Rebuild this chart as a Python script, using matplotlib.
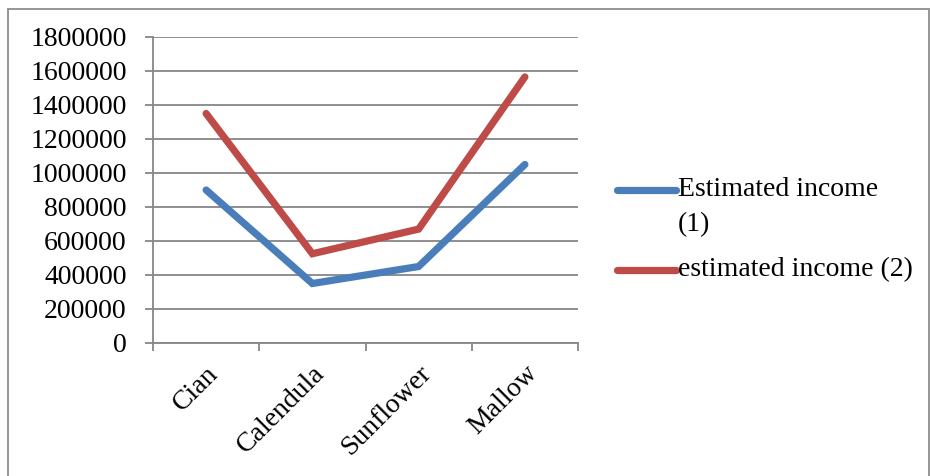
import matplotlib.pyplot as plt
from matplotlib.lines import Line2D
from matplotlib.patches import Rectangle
from matplotlib.ticker import StrMethodFormatter

crops = ["Cian", "Calendula", "Sunflower", "Mallow"]
income_1 = [900000, 350000, 450000, 1050000]
income_2 = [1350000, 525000, 670000, 1565000]
series_names = ["Estimated income\n(1)", "estimated income (2)"]
colors = ["#4A7EBB", "#BE4B48"]
grid_gray = "#868686"

plt.rcParams["font.family"] = ["Liberation Serif", "DejaVu Serif"]
fs = 20

fig = plt.figure(figsize=(9.31, 4.76), dpi=100)
ax = fig.add_axes([153 / 931, 1 - 343 / 476, 425 / 931, 306 / 476])

x = list(range(len(crops)))
ax.plot(x, income_1, color=colors[0], lw=5.2, solid_capstyle="round",
        solid_joinstyle="miter", zorder=3)
ax.plot(x, income_2, color=colors[1], lw=5.2, solid_capstyle="round",
        solid_joinstyle="miter", zorder=3)

ax.set_xlim(-0.5, len(crops) - 0.5)
ax.set_ylim(0, 1800000)
ax.set_yticks(range(0, 1800001, 200000))
ax.yaxis.set_major_formatter(StrMethodFormatter("{x:.0f}"))
ax.yaxis.grid(True, color=grid_gray, lw=1.3)
ax.set_axisbelow(True)

# category ticks sit on the boundaries, labels in between
ax.set_xticks([i - 0.5 for i in range(len(crops) + 1)])
ax.set_xticklabels([])
ax.set_xticks(x, minor=True)
ax.set_xticklabels(crops, minor=True, rotation=45, ha="right",
                   rotation_mode="anchor", fontsize=fs)
ax.tick_params(axis="x", which="minor", length=0, pad=13)
ax.tick_params(axis="x", which="major", length=6, width=1.3, color=grid_gray,
               direction="out")
ax.tick_params(axis="y", length=6, width=1.3, color=grid_gray, pad=13,
               labelsize=fs)

for side in ["top", "right"]:
    ax.spines[side].set_visible(False)
for side in ["left", "bottom"]:
    ax.spines[side].set_color(grid_gray)
    ax.spines[side].set_linewidth(1.3)

# legend entries drawn by hand so the handle lines up with the first text line
for name, col, ypx in zip(series_names, colors, [190, 270]):
    yf = 1 - ypx / 476
    fig.add_artist(Line2D([617 / 931, 676 / 931], [yf, yf], color=col, lw=5.2,
                          solid_capstyle="round", transform=fig.transFigure))
    first, *rest = name.split("\n")
    fig.text(678 / 931, yf, first, fontsize=fs, va="center", ha="left")
    if rest:
        fig.text(678 / 931, 1 - 225 / 476, rest[0], fontsize=fs,
                 va="center", ha="left")

fig.add_artist(Rectangle((8 / 931, -0.05), 921 / 931, 1.05 - 9 / 476,
                         transform=fig.transFigure, fill=False,
                         edgecolor="#8c8c8c", lw=1.3))

fig.savefig("out.png", dpi=100)
